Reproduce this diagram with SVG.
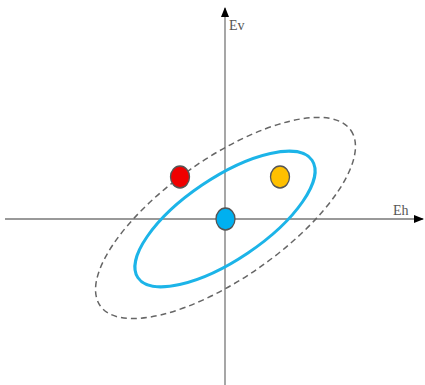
<svg xmlns="http://www.w3.org/2000/svg" width="425" height="385" viewBox="0 0 425 385">
<style>
.axis{stroke:#777;stroke-width:1.3;fill:none}
.lbl{font-family:"Liberation Serif",serif;font-size:14px;fill:#555}
.dot{stroke:#555;stroke-width:1.3}
</style>
<defs>
<marker id="arr" viewBox="0 0 10 10" refX="9" refY="5" markerWidth="10" markerHeight="10" markerUnits="userSpaceOnUse" orient="auto">
<path d="M0,1 L10,5 L0,9 Z" fill="#000"/>
</marker>
</defs>
<rect width="425" height="385" fill="#fff"/>
<g id="connectors">
<line class="axis" x1="225" y1="385" x2="225" y2="8" marker-end="url(#arr)"/>
<line class="axis" x1="5" y1="219" x2="423" y2="219" marker-end="url(#arr)"/>
<ellipse id="dashed-ellipse" cx="225.5" cy="218" rx="153" ry="60" transform="rotate(-35 225.5 218)" fill="none" stroke="#666" stroke-width="1.5" stroke-dasharray="6 4"/>
<ellipse id="blue-ellipse" cx="225" cy="219" rx="105" ry="41" transform="rotate(-34 225 219)" fill="none" stroke="#1cb4e8" stroke-width="3"/>
</g>
<g id="label-ev"><text class="lbl" x="229" y="30">Ev</text></g>
<g id="label-eh"><text class="lbl" x="393" y="215">Eh</text></g>
<g id="red-dot"><ellipse class="dot" cx="180" cy="177" rx="9.5" ry="11" fill="#f00000"/></g>
<g id="yellow-dot"><ellipse class="dot" cx="280" cy="177" rx="9.5" ry="11" fill="#ffc000"/></g>
<g id="blue-dot"><ellipse class="dot" cx="225.5" cy="219" rx="9.5" ry="11" fill="#00b0f0"/></g>
</svg>
